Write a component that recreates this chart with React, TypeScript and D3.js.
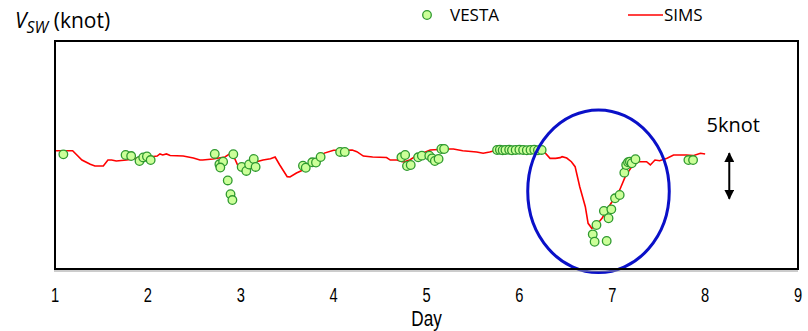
import React from "react";
import * as d3 from "d3";

// x-axis ticks (day)
const dayTicks = [1, 2, 3, 4, 5, 6, 7, 8, 9];

// SIMS simulation: [day, knot]
const simsDay = [1.00,1.19,1.29,1.38,1.43,1.52,1.57,1.61,1.66,1.77,1.84,1.92,2.02,2.10,2.13,2.16,2.20,2.24,2.38,2.49,2.56,2.59,2.70,2.83,2.88,2.92,2.99,3.02,3.17,3.24,3.32,3.37,3.42,3.50,3.53,3.60,3.67,3.75,3.82,3.90,4.00,4.10,4.20,4.25,4.32,4.42,4.57,4.61,4.68,4.75,4.82,4.89,5.04,5.22,5.29,5.39,5.54,5.61,5.68,5.76,6.25,6.33,6.39,6.44,6.46,6.51,6.56,6.60,6.65,6.71,6.74,6.78,6.83,6.89,6.94,7.01,7.08,7.14,7.21,7.28,7.37,7.41,7.46,7.51,7.59,7.66,7.73,7.80,7.87,7.95,8.00];
const simsKnot = [12.45,12.45,11.47,11.02,10.84,10.84,11.47,11.47,11.37,11.47,11.58,11.79,11.79,11.89,12.11,12.0,12.11,11.95,11.89,11.68,11.47,11.47,11.58,11.79,12.11,11.95,10.42,10.63,11.29,11.47,11.61,11.79,10.95,9.72,9.68,10.11,10.42,10.9,11.6,12.2,12.5,12.5,12.53,12.35,11.89,11.79,11.74,11.47,11.47,11.26,11.47,11.93,12.53,12.63,12.63,12.45,12.32,12.18,12.32,12.53,12.53,11.65,11.65,11.72,11.82,11.68,11.29,10.77,8.66,6.56,4.81,4.28,4.63,5.34,6.21,7.26,8.32,9.72,10.77,11.29,11.29,10.95,11.47,11.4,11.65,12.0,12.0,12.0,11.93,12.18,12.11];

// VESTA observations: [day, knot]
const vestaDay = [1.09,1.76,1.82,1.91,1.95,1.99,2.03,2.72,2.77,2.81,2.78,2.86,2.89,2.91,2.92,3.01,3.06,3.09,3.14,3.16,3.67,3.70,3.77,3.81,3.86,4.07,4.12,4.73,4.77,4.79,4.83,4.91,4.95,5.03,5.06,5.09,5.13,5.16,5.19,5.76,5.79,5.82,5.85,5.89,5.92,5.96,6.00,6.04,6.08,6.12,6.16,6.20,6.24,6.79,6.81,6.83,6.94,6.91,6.96,6.99,7.03,7.08,7.13,7.15,7.17,7.19,7.21,7.25,7.82,7.87];
const vestaKnot = [12.07,12.0,11.89,11.37,11.74,11.84,11.47,12.11,11.02,11.29,10.68,9.32,7.87,7.26,12.08,10.74,10.32,11.0,11.58,10.74,10.87,10.66,11.23,11.21,11.79,12.32,12.32,11.76,12.0,10.84,10.95,11.76,11.93,11.93,11.65,11.37,11.58,12.63,12.63,12.53,12.55,12.5,12.53,12.55,12.5,12.53,12.55,12.53,12.5,12.53,12.55,12.5,12.53,3.65,2.87,4.63,2.95,6.11,5.34,6.28,7.44,7.79,10.14,10.95,11.23,11.29,11.13,11.55,11.47,11.47];

// annotation: highlighted event (ellipse centre/radii in day, knot), scale arrow
const eventCenter = [6.852, 8.18];
const eventRadius = [0.762, 8.56];
const scaleArrowDay = 8.26;
const scaleArrowFrom = 12.3;
const scaleArrowSpan = 5;

const W = 808, H = 331;
const m = { left: 55, right: 798, top: 41, bottom: 269 };

export default function App() {
  const x = d3.scaleLinear().domain([1, 9]).range([m.left, m.right]);
  const y = d3.scaleLinear().domain([0, 24]).range([m.bottom, m.top]);
  const sims = simsDay.map((d, i) => [d, simsKnot[i]] as [number, number]);
  const line = d3.line<[number, number]>().x(d => x(d[0])).y(d => y(d[1]));
  const font = "'Open Sans', 'Noto Sans', sans-serif";
  const narrow = "'Liberation Sans', 'DejaVu Sans', sans-serif";
  const ax = x(scaleArrowDay);
  const ay1 = y(scaleArrowFrom);
  const ay2 = y(scaleArrowFrom - scaleArrowSpan);
  return (
    <svg width={W} height={H} style={{ position: "absolute", left: 0, top: 0, background: "#fff" }}>
      <defs>
        <marker id="ah" viewBox="0 0 10 10" refX="9" refY="5" markerWidth="5" markerHeight="5" orient="auto-start-reverse">
          <path d="M0,0 L10,5 L0,10 z" fill="#000" />
        </marker>
      </defs>
      {/* y label */}
      <text x={15} y={28} fontFamily={font} fontSize={21} fill="#000">
        <tspan fontStyle="italic">V</tspan>
        <tspan fontStyle="italic" fontSize={16} dy={5}>SW</tspan>
        <tspan dy={-5}> (knot)</tspan>
      </text>
      {/* legend */}
      <circle cx={427} cy={15} r={4.3} fill="#ccff99" stroke="#2f9a2f" strokeWidth={1.3} />
      <text x={450} y={21} fontFamily={font} fontSize={17} fill="#000">VESTA</text>
      <line x1={628} x2={663} y1={15} y2={15} stroke="#ff0000" strokeWidth={1.5} />
      <text x={664} y={21} fontFamily={font} fontSize={17} fill="#000">SIMS</text>
      {/* SIMS line */}
      <path d={line(sims) || ""} fill="none" stroke="#ff0000" strokeWidth={1.6} />
      {/* VESTA points */}
      {vestaDay.map((d, i) => (
        <circle key={i} cx={x(d)} cy={y(vestaKnot[i])} r={4.3} fill="#ccff99" stroke="#2f9a2f" strokeWidth={1.3} />
      ))}
      {/* event ellipse */}
      <ellipse cx={x(eventCenter[0])} cy={y(eventCenter[1])}
        rx={x(eventCenter[0] + eventRadius[0]) - x(eventCenter[0])}
        ry={y(eventCenter[1] - eventRadius[1]) - y(eventCenter[1])}
        fill="none" stroke="#0a10c8" strokeWidth={3} />
      {/* frame */}
      <line x1={m.left - 1} x2={m.right} y1={m.bottom + 2} y2={m.bottom + 2} stroke="#999" strokeWidth={1} />
      <rect x={m.left} y={m.top} width={m.right - m.left} height={m.bottom - m.top} fill="none" stroke="#000" strokeWidth={2} />
      {/* scale arrow */}
      <line x1={ax} x2={ax} y1={ay1 + 1} y2={ay2 - 1} stroke="#000" strokeWidth={2} markerStart="url(#ah)" markerEnd="url(#ah)" />
      <text x={ax + 4} y={132} textAnchor="middle" fontFamily={font} fontSize={20} fill="#000">5knot</text>
      {/* x ticks */}
      {dayTicks.map(t => (
        <text key={t} transform={`translate(${x(t)},302) scale(0.7,1)`} textAnchor="middle" fontFamily={narrow} fontSize={21} fill="#000">{t}</text>
      ))}
      <text transform={`translate(${x(5)},326) scale(0.78,1)`} textAnchor="middle" fontFamily={narrow} fontSize={22} fill="#000">Day</text>
    </svg>
  );
}
